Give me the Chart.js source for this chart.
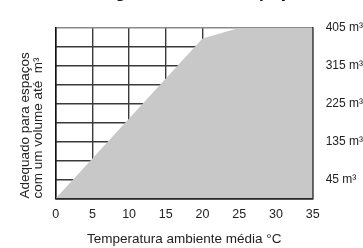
<!DOCTYPE html>
<html>
<head>
<meta charset="utf-8">
<script src="https://cdn.jsdelivr.net/npm/chart.js@4"></script>
<style>
  html, body { margin: 0; padding: 0; background: #fff; }
  #wrap { position: relative; width: 363px; height: 248px; overflow: hidden; }
  #chart { position: absolute; left: 0; top: -17px; }
</style>
</head>
<body>
<div id="wrap"><canvas id="chart" width="363" height="265"></canvas></div>
<script>
// ── data ──
const temps = [0, 20, 25, 35];
const volumes = [0, 380, 405, 405];
const volumeTicks = [45, 135, 225, 315, 405];
const titleText = 'Carga térmica dos espaços';
const yTitle = ['Adequado para espaços', 'com um volume até  m³'];
const xTitle = 'Temperatura ambiente média °C';

const FONT = '"Liberation Sans Narrow", "Liberation Sans", Arial, sans-serif';
Chart.defaults.font.family = FONT;
Chart.defaults.font.size = 12;
Chart.defaults.color = '#222';

new Chart(document.getElementById('chart'), {
  type: 'line',
  data: {
    datasets: [{
      data: temps.map((t, i) => ({ x: t, y: volumes[i] })),
      backgroundColor: '#c8c8c8',
      borderWidth: 0,
      pointRadius: 0,
      fill: 'origin',
      tension: 0
    }]
  },
  options: {
    responsive: false,
    animation: false,
    layout: { padding: { left: 19, right: -13, bottom: 2 } },
    plugins: {
      legend: { display: false },
      tooltip: { enabled: false },
      title: {
        display: true,
        text: titleText,
        font: { size: 17, weight: 'bold' },
        color: '#111',
        padding: { top: 0, bottom: 24.5 }
      }
    },
    scales: {
      x: {
        type: 'linear',
        min: 0, max: 35,
        z: 1,
        ticks: { stepSize: 5, padding: 9, font: { size: 12.5 } },
        grid: { color: '#3a3a3a', lineWidth: 1.4, drawTicks: false },
        border: { color: '#111', width: 1.5 },
        title: { display: true, text: xTitle, font: { size: 13.5, lineHeight: 1 }, padding: { top: 1, bottom: 0 } }
      },
      y: {
        position: 'right',
        min: 0, max: 405,
        z: 1,
        afterBuildTicks: s => {
          s.ticks = [];
          for (let v = 0; v <= 405; v += 45) s.ticks.push({ value: v });
        },
        ticks: {
          padding: 13,
          font: { size: 12 },
          callback: v => volumeTicks.includes(v) ? v + ' m³' : ''
        },
        grid: {
          color: c => c.tick && c.tick.value === 405 ? '#8a8a8a' : '#3a3a3a',
          lineWidth: 1.4,
          drawTicks: false
        },
        border: { color: '#333', width: 1.5 }
      },
      y2: {
        position: 'left',
        min: 0, max: 405,
        z: 1,
        ticks: { display: false },
        grid: { display: false, drawTicks: false },
        border: { color: '#111', width: 1.5 },
        title: {
          display: true,
          text: yTitle,
          align: 'start',
          font: { size: 13.5, lineHeight: 0.95 },
          padding: { top: 0, bottom: 11 }
        }
      }
    }
  }
});
</script>
</body>
</html>
